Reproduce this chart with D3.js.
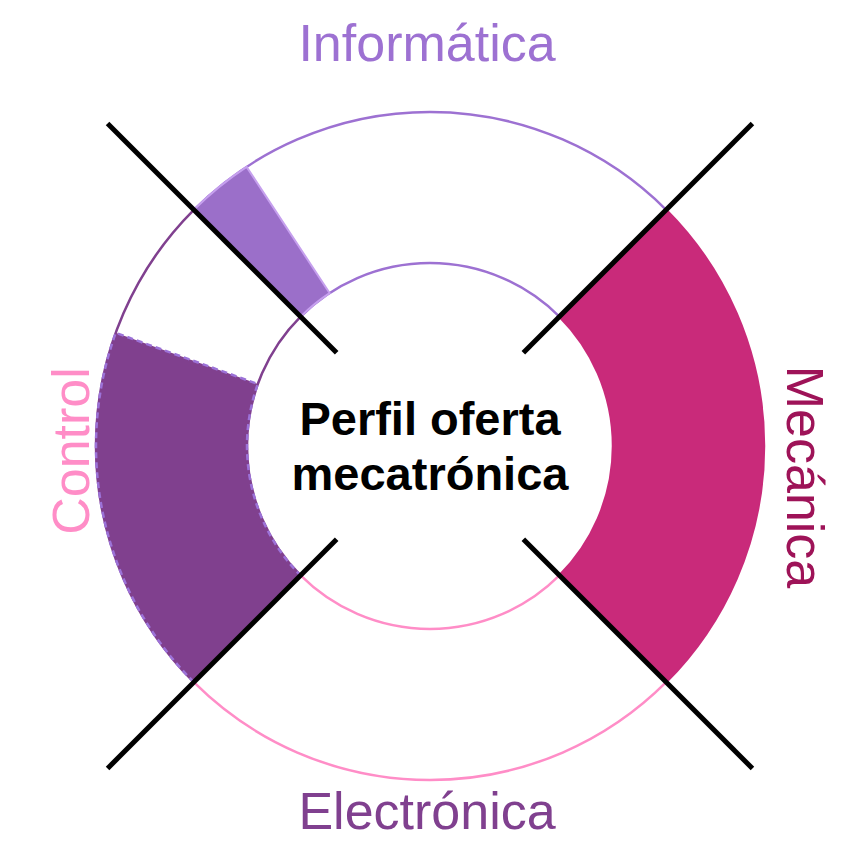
<!DOCTYPE html>
<html>
<head>
<meta charset="utf-8">
<script src="https://cdn.jsdelivr.net/npm/d3@7"></script>
<style>
  html, body { margin: 0; padding: 0; background: #fff; }
  #chart { width: 842px; height: 842px; }
</style>
</head>
<body>
<div id="chart"></div>
<script>
// categories, one per quadrant (clockwise from the top)
var categories = ["Informática", "Mecánica", "Electrónica", "Control"];
// share of each quadrant that is filled
var values = [0.13, 1.0, 0.0, 0.72];
var outlineColors = ["#9d71d2", "#c92a7a", "#ff8dc7", "#80408f"];
var fillColors = ["#9b6fc9", "#c92a7a", "#ff8dc7", "#80408e"];
var labelColors = ["#9d71d2", "#9e1358", "#80408f", "#ff8dc7"];
var centerTitle = ["Perfil oferta", "mecatrónica"];

function draw_quadrants() {
    var width = 842, height = 842;
    var cx = 430, cy = 446;
    var rInner = 183, rOuter = 334;

    var svg = d3.select("#chart")
        .append("svg")
        .attr("width", width)
        .attr("height", height)
        .append("g")
        .attr("transform", `translate(${cx}, ${cy})`);

    var data = categories.map(function(c, i) {
        return {name: c, value: values[i], idx: i};
    });

    // quadrant angles: each category gets a quarter, centred on its direction
    var angle = d3.scaleBand()
        .domain(categories)
        .range([-Math.PI / 4, 2 * Math.PI - Math.PI / 4])
        .padding(0);
    var fill = d3.scaleLinear().domain([0, 1]).range([0, angle.bandwidth()]);

    var arc = d3.arc()
        .innerRadius(rInner)
        .outerRadius(rOuter);

    // outlines
    svg.selectAll(".outline")
        .data(data)
        .enter().append("path")
        .attr("class", "outline")
        .attr("d", function(d) {
            return arc({startAngle: angle(d.name), endAngle: angle(d.name) + angle.bandwidth()});
        })
        .attr("fill", "none")
        .attr("stroke", function(d) { return outlineColors[d.idx]; })
        .attr("stroke-width", 2.5);

    // filled part
    svg.selectAll(".bar")
        .data(data.filter(function(d) { return d.value > 0; }))
        .enter().append("path")
        .attr("class", "bar")
        .attr("d", function(d) {
            return arc({startAngle: angle(d.name), endAngle: angle(d.name) + fill(d.value)});
        })
        .attr("fill", function(d) { return fillColors[d.idx]; })
        .attr("stroke", function(d) {
            if (d.name == "Informática") return "#c6a0ee";
            if (d.name == "Control") return "#9c72d8";
            return "none";
        })
        .attr("stroke-width", function(d) { return d.name == "Control" ? 2.5 : 2; })
        .attr("stroke-dasharray", function(d) { return d.name == "Control" ? "6,4" : null; });

    // black separators on the quadrant borders
    var r0 = 132, r1 = 456;
    svg.selectAll(".sep")
        .data(data)
        .enter().append("line")
        .attr("class", "sep")
        .attr("x1", function(d) { return r0 * Math.sin(angle(d.name)); })
        .attr("y1", function(d) { return -r0 * Math.cos(angle(d.name)); })
        .attr("x2", function(d) { return r1 * Math.sin(angle(d.name)); })
        .attr("y2", function(d) { return -r1 * Math.cos(angle(d.name)); })
        .attr("stroke", "#000")
        .attr("stroke-width", 5);

    // category labels
    var font = "'Liberation Sans', Arial, Helvetica, sans-serif";
    var labelPos = [
        {x: -3, y: -385, rot: 0},
        {x: 357, y: 31, rot: 90},
        {x: -3, y: 383, rot: 0},
        {x: -341, y: 5, rot: -90}
    ];
    svg.selectAll(".label")
        .data(data)
        .enter().append("text")
        .attr("class", "label")
        .attr("transform", function(d) {
            var p = labelPos[d.idx];
            return `translate(${p.x}, ${p.y}) rotate(${p.rot})`;
        })
        .attr("text-anchor", "middle")
        .attr("font-family", font)
        .attr("font-size", 52)
        .attr("fill", function(d) { return labelColors[d.idx]; })
        .text(function(d) { return d.name; });

    // centre title
    svg.append("text")
        .attr("text-anchor", "middle")
        .attr("font-family", font)
        .attr("font-weight", "bold")
        .attr("font-size", 47)
        .attr("fill", "#000")
        .selectAll("tspan")
        .data(centerTitle)
        .enter().append("tspan")
        .attr("x", 0)
        .attr("y", function(d, i) { return -11 + i * 55; })
        .text(function(d) { return d; });
}

draw_quadrants();
</script>
</body>
</html>
